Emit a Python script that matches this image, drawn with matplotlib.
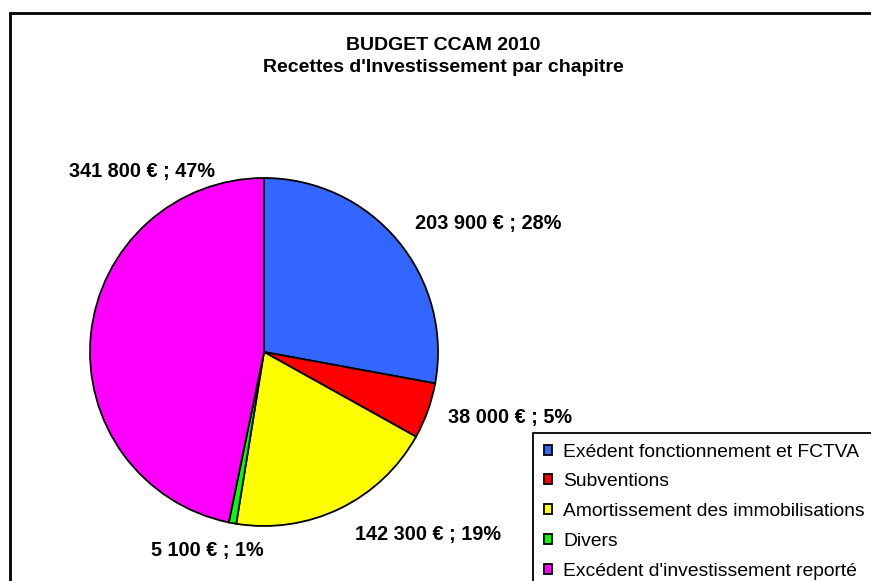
import matplotlib.pyplot as plt
from matplotlib.patches import Rectangle

plt.rcParams['font.family'] = ['Liberation Sans', 'DejaVu Sans']

categories = ["Exédent fonctionnement et FCTVA", "Subventions",
              "Amortissement des immobilisations", "Divers",
              "Excédent d'investissement reporté"]
values = [203900, 38000, 142300, 5100, 341800]
colors = ["#3366FF", "#FF0000", "#FFFF00", "#00FF00", "#FF00FF"]

# label centres, in pie radius units
label_pos = [(1.287, 0.736), (1.414, -0.379), (0.943, -1.046),
             (-0.328, -1.138), (-0.701, 1.040)]

W, H = 871, 581
cx, cy, R = 264, 352, 174

fig = plt.figure(figsize=(W / 100, H / 100), dpi=100)
ax = fig.add_axes([0, 0, 1, 1])
wedges, _ = ax.pie(values, colors=colors, startangle=90, counterclock=False,
                   radius=1, wedgeprops=dict(edgecolor="black", linewidth=1.3))
ax.set_aspect('auto')
ax.set_xlim(-cx / R, (W - cx) / R)
ax.set_ylim(-(H - cy) / R, cy / R)
ax.axis('off')

total = sum(values)
for v, (x, y) in zip(values, label_pos):
    txt = f"{v:,} € ; {round(v / total * 100)}%".replace(",", " ")
    ax.text(x, y, txt, ha='center', va='center', fontsize=14.3,
            fontweight='bold', clip_on=False)

fig.text(443 / W, 1 - 45 / H, "BUDGET CCAM 2010", ha='center', va='center',
         fontsize=14, fontweight='bold')
fig.text(443 / W, 1 - 68 / H, "Recettes d'Investissement par chapitre",
         ha='center', va='center', fontsize=14, fontweight='bold')

leg = fig.legend(wedges, categories, loc='upper left',
                 bbox_to_anchor=(533 / W, 1 - 433 / H), fontsize=13.9,
                 frameon=True, fancybox=False, edgecolor='black', framealpha=1,
                 handlelength=0.42, handleheight=0.42, handletextpad=0.6,
                 labelspacing=0.66, borderpad=0.55, borderaxespad=0)
leg.get_frame().set_linewidth(1.3)

# outer chart frame, running off the right and bottom
fig.patches.append(Rectangle((9.5 / W, -0.1), 1.2, 1 - 13 / H + 0.1,
                             transform=fig.transFigure, fill=False,
                             edgecolor='black', linewidth=2))

fig.savefig("out.png", dpi=100)
